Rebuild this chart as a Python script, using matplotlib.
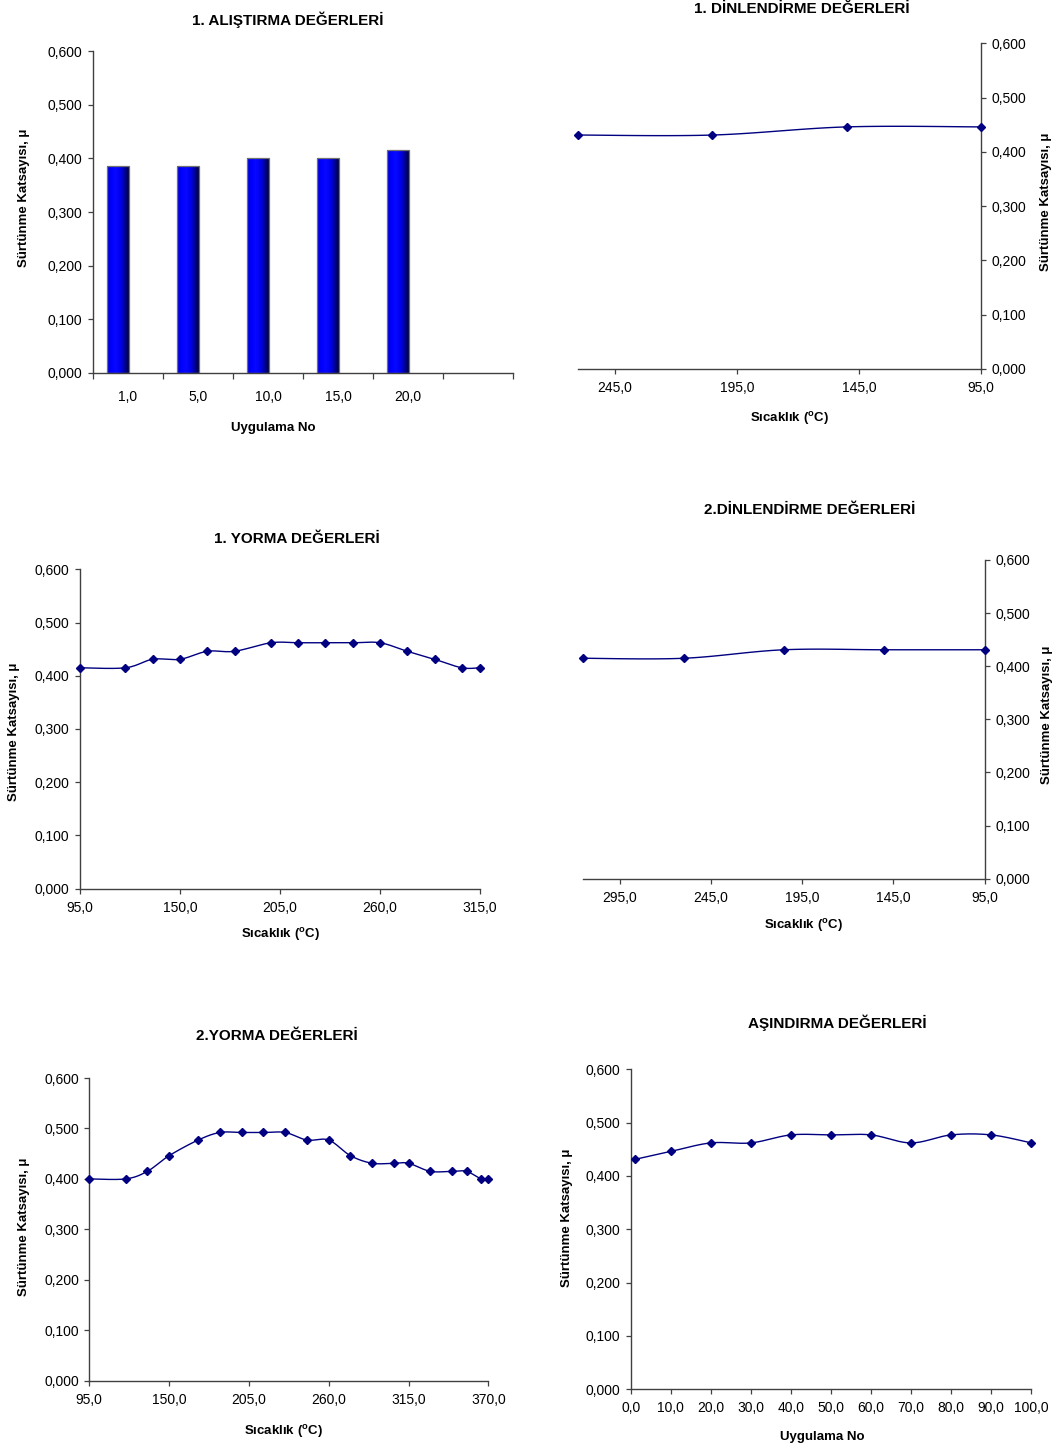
import numpy as np
import matplotlib
matplotlib.use("Agg")
import matplotlib.pyplot as plt
from matplotlib.colors import LinearSegmentedColormap
from matplotlib.patches import Rectangle
from matplotlib.ticker import FixedLocator, FuncFormatter

plt.rcParams['font.family'] = ['Liberation Sans', 'DejaVu Sans']
plt.rcParams['mathtext.fontset'] = 'custom'
plt.rcParams['mathtext.rm'] = 'Liberation Sans:bold'
plt.rcParams['mathtext.it'] = 'Liberation Sans:bold'

# ---- data -------------------------------------------------------------
alistirma_cats = ['1,0', '5,0', '10,0', '15,0', '20,0', '']
alistirma_mu = [0.385, 0.385, 0.400, 0.400, 0.415]

din1_temp = [260, 205, 150, 95]
din1_mu = [0.431, 0.431, 0.446, 0.446]

yorma1_temp = [95, 120, 135, 150, 165, 180, 200, 215, 230, 245, 260, 275, 290, 305, 315]
yorma1_mu = [0.415, 0.415, 0.431, 0.431, 0.446, 0.446, 0.462, 0.462, 0.462, 0.462,
             0.462, 0.446, 0.431, 0.415, 0.415]

din2_temp = [315, 260, 205, 150, 95]
din2_mu = [0.415, 0.415, 0.431, 0.431, 0.431]

yorma2_temp = [95, 120, 135, 150, 170, 185, 200, 215, 230, 245, 260, 275, 290, 305,
               315, 330, 345, 355, 365, 370]
yorma2_mu = [0.400, 0.400, 0.415, 0.446, 0.477, 0.492, 0.492, 0.492, 0.492, 0.477,
             0.477, 0.446, 0.431, 0.431, 0.431, 0.415, 0.415, 0.415, 0.400, 0.400]

asin_no = [1, 10, 20, 30, 40, 50, 60, 70, 80, 90, 100]
asin_mu = [0.431, 0.446, 0.462, 0.462, 0.477, 0.477, 0.477, 0.462, 0.477, 0.477, 0.462]

mu_ticks = [0.0, 0.1, 0.2, 0.3, 0.4, 0.5, 0.6]

YLABEL = 'Sürtünme Katsayısı, μ'
TLABEL = 'Sıcaklık ($^{\\mathrm{o}}$C)'
NLABEL = 'Uygulama No'

# ---- layout helpers ---------------------------------------------------
W, H = 1058, 1450
fig = plt.figure(figsize=(W / 100, H / 100), dpi=100)

AX_COLOR = '#404040'
LINE_COLOR = '#000080'


def box(l, t, r, b):
    return [l / W, 1 - b / H, (r - l) / W, (b - t) / H]


def ftext(x, y, s, size=9.5, rotation=0):
    fig.text(x / W, 1 - y / H, s, ha='center', va='center', fontsize=size,
             fontweight='bold', rotation=rotation, rotation_mode='anchor')


def comma(fmt):
    return FuncFormatter(lambda v, p: format(v, fmt).replace('.', ','))


def setup(ax, side='left'):
    ax.spines['top'].set_visible(False)
    if side == 'left':
        ax.spines['right'].set_visible(False)
    else:
        ax.spines['left'].set_visible(False)
        ax.yaxis.tick_right()
    for s in ax.spines.values():
        s.set_color(AX_COLOR)
        s.set_linewidth(1.0)
    ax.set_ylim(0, 0.6)
    ax.yaxis.set_major_locator(FixedLocator(mu_ticks))
    ax.yaxis.set_major_formatter(comma('.3f'))
    ax.tick_params(axis='both', direction='out', length=3.5, width=0.9,
                   color=AX_COLOR, labelsize=10, labelcolor='black')
    ax.tick_params(axis='y', pad=4)
    ax.tick_params(axis='x', pad=5)


def smooth(x, y, n=24):
    """Cubic Bezier smoothing through every point (Catmull-Rom style)."""
    p = np.column_stack([x, y]).astype(float)
    ext = np.vstack([p[0], p, p[-1]])
    t = np.linspace(0, 1, n)[1:, None]
    out = [p[:1]]
    for i in range(len(p) - 1):
        p0, p1 = ext[i + 1], ext[i + 2]
        c1 = p0 + (ext[i + 2] - ext[i]) / 6
        c2 = p1 - (ext[i + 3] - ext[i + 1]) / 6
        seg = ((1 - t) ** 3) * p0 + 3 * ((1 - t) ** 2) * t * c1 \
            + 3 * (1 - t) * (t ** 2) * c2 + (t ** 3) * p1
        out.append(seg)
    return np.vstack(out)


def curve(ax, x, y):
    s = smooth(x, y)
    ax.plot(s[:, 0], s[:, 1], color=LINE_COLOR, lw=1.0, clip_on=False,
            solid_joinstyle='round')
    ax.plot(x, y, ls='none', marker='D', ms=4.0, color=LINE_COLOR,
            mec=LINE_COLOR, clip_on=False, zorder=3)


# ---- 1. ALIŞTIRMA (bar chart) -----------------------------------------
ax1 = fig.add_axes(box(93, 51, 513, 373))
setup(ax1)
ncat = len(alistirma_cats)
ax1.set_xlim(-0.5, ncat - 0.5)
ax1.xaxis.set_major_locator(FixedLocator(np.arange(ncat)))
ax1.xaxis.set_major_formatter(FuncFormatter(lambda v, p: alistirma_cats[int(round(v))]))
ax1.xaxis.set_minor_locator(FixedLocator(np.arange(ncat + 1) - 0.5))
ax1.tick_params(axis='x', which='major', length=0, pad=12)
ax1.tick_params(axis='x', which='minor', direction='out', length=4, width=0.9,
                color=AX_COLOR)
bar_cmap = LinearSegmentedColormap.from_list(
    'barshade', ['#0000d8', '#0000ff', '#0808ff', '#0000f0', '#0000a0', '#000040'])
grad = np.linspace(0, 1, 64)[None, :]
bw = 0.31
for i, v in enumerate(alistirma_mu):
    x0 = i - 0.30
    rect = Rectangle((x0, 0), bw, v, facecolor='none', edgecolor='#707070',
                     lw=0.9, zorder=3)
    ax1.add_patch(rect)
    im = ax1.imshow(grad, cmap=bar_cmap, aspect='auto', extent=(x0, x0 + bw, 0, v),
                    zorder=2, interpolation='bilinear')
    im.set_clip_path(rect)
ax1.set_xlim(-0.5, ncat - 0.5)
ax1.set_ylim(0, 0.6)
ftext(288, 20, '1. ALIŞTIRMA DEĞERLERİ', size=11)
ftext(273, 428, NLABEL)
ftext(24, 198, YLABEL, rotation=90)

# ---- 1. DİNLENDİRME ---------------------------------------------------
ax2 = fig.add_axes(box(578, 43.3, 981, 369))
setup(ax2, side='right')
ax2.set_xlim(260, 95)
ax2.xaxis.set_major_locator(FixedLocator([245, 195, 145, 95]))
ax2.xaxis.set_major_formatter(comma('.1f'))
curve(ax2, din1_temp, din1_mu)
ftext(802, 9, '1. DİNLENDİRME DEĞERLERİ', size=11)
ftext(789, 418, TLABEL)
ftext(1046, 202, YLABEL, rotation=90)

# ---- 1. YORMA ----------------------------------------------------------
ax3 = fig.add_axes(box(80, 569.3, 480, 888.7))
setup(ax3)
ax3.set_xlim(95, 315)
ax3.xaxis.set_major_locator(FixedLocator([95, 150, 205, 260, 315]))
ax3.xaxis.set_major_formatter(comma('.1f'))
curve(ax3, yorma1_temp, yorma1_mu)
ftext(297, 539, '1. YORMA DEĞERLERİ', size=11)
ftext(280, 934, TLABEL)
ftext(14, 732, YLABEL, rotation=90)

# ---- 2. DİNLENDİRME ---------------------------------------------------
ax4 = fig.add_axes(box(583.3, 560, 984.7, 878.7))
setup(ax4, side='right')
ax4.set_xlim(315, 95)
ax4.xaxis.set_major_locator(FixedLocator([295, 245, 195, 145, 95]))
ax4.xaxis.set_major_formatter(comma('.1f'))
curve(ax4, din2_temp, din2_mu)
ftext(810, 510, '2.DİNLENDİRME DEĞERLERİ', size=11)
ftext(803, 926, TLABEL)
ftext(1047, 715, YLABEL, rotation=90)

# ---- 2. YORMA ----------------------------------------------------------
ax5 = fig.add_axes(box(89.3, 1078, 488.3, 1380.7))
setup(ax5)
ax5.set_xlim(95, 370)
ax5.xaxis.set_major_locator(FixedLocator([95, 150, 205, 260, 315, 370]))
ax5.xaxis.set_major_formatter(comma('.1f'))
curve(ax5, yorma2_temp, yorma2_mu)
ftext(277, 1036, '2.YORMA DEĞERLERİ', size=11)
ftext(283, 1431, TLABEL)
ftext(24, 1227, YLABEL, rotation=90)

# ---- AŞINDIRMA ---------------------------------------------------------
ax6 = fig.add_axes(box(630.7, 1069.3, 1031.3, 1389.3))
setup(ax6)
ax6.set_xlim(0, 100)
ax6.xaxis.set_major_locator(FixedLocator(np.arange(0, 101, 10)))
ax6.xaxis.set_major_formatter(comma('.1f'))
curve(ax6, asin_no, asin_mu)
ftext(837, 1023, 'AŞINDIRMA DEĞERLERİ', size=11)
ftext(822, 1437, NLABEL)
ftext(567, 1218, YLABEL, rotation=90)

fig.savefig('out.png', dpi=100, facecolor='white')
